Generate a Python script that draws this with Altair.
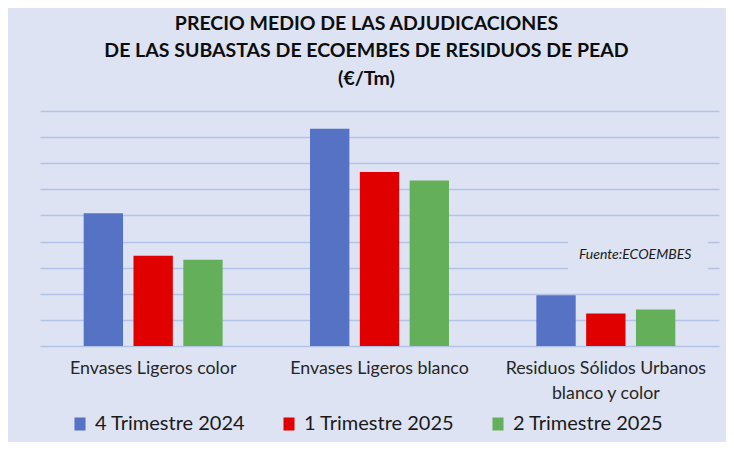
import altair as alt
import pandas as pd

categories = ["Envases Ligeros color", "Envases Ligeros blanco", "Residuos Sólidos Urbanos blanco y color"]
series = ["4 Trimestre 2024", "1 Trimestre 2025", "2 Trimestre 2025"]
q4_2024 = [254, 416, 97]
q1_2025 = [173, 333, 62]
q2_2025 = [165, 317, 70]
colors = ["#5672c4", "#e00000", "#64b05a"]
grid_values = [0, 50, 100, 150, 200, 250, 300, 350, 400, 450]
source_note = ["Fuente:ECOEMBES"]

rows = []
for s, vals in zip(series, [q4_2024, q1_2025, q2_2025]):
    for c, v in zip(categories, vals):
        rows.append({"categoria": c, "serie": s, "valor": v})
df = pd.DataFrame(rows)

FONT = "Lato, Liberation Sans, sans-serif"
BG = "#dde3f2"

label_expr = ("datum.value == 'Residuos Sólidos Urbanos blanco y color' ? "
              "['Residuos  Sólidos  Urbanos', 'blanco y color'] : datum.label")

bars = alt.Chart(df).mark_bar().encode(
    x=alt.X("categoria:N", sort=categories,
            scale=alt.Scale(paddingInner=0.386, paddingOuter=0.193),
            axis=alt.Axis(title=None, labelAngle=0, domain=False, ticks=False,
                          labelPadding=13, labelFontSize=17.8, labelFont=FONT,
                          labelColor="#262626", labelLimit=0, labelLineHeight=25,
                          bandPosition=0.515, labelExpr=label_expr)),
    xOffset=alt.XOffset("serie:N", sort=series,
                        scale=alt.Scale(paddingInner=0.21, paddingOuter=0)),
    y=alt.Y("valor:Q", scale=alt.Scale(domain=[0, 450], nice=False),
            axis=alt.Axis(title=None, labels=False, ticks=False, domain=False,
                          values=grid_values, gridColor="#b3c3e6", gridWidth=1.5)),
    color=alt.Color("serie:N", sort=series,
                    scale=alt.Scale(domain=series, range=colors),
                    legend=alt.Legend(title=None, orient="none", direction="horizontal",
                                      legendX=30, legendY=303,
                                      symbolType="M-0.85,-1H0.85V1H-0.85Z",
                                      symbolSize=169, symbolStrokeWidth=0,
                                      labelFontSize=20, labelFont=FONT,
                                      labelColor="#1a1a1a", labelOffset=5,
                                      columnPadding=33, labelLimit=0)),
)

note_df = pd.DataFrame({"t": source_note})
box = alt.Chart(note_df).mark_rect(color=BG).encode(
    x=alt.value(528), x2=alt.value(668), y=alt.value(116), y2=alt.value(172)
)
note = alt.Chart(note_df).mark_text(
    align="left", baseline="alphabetic", fontStyle="italic", fontSize=14,
    font=FONT, color="#1a1a1a"
).encode(x=alt.value(539), y=alt.value(148), text="t:N")

chart = alt.layer(box, bars, note).properties(
    width=679, height=235,
    autosize=alt.AutoSizeParams(type="none"),
    padding={"left": 32, "top": 103, "right": 7, "bottom": 96},
    title=alt.TitleParams(
        ["PRECIO MEDIO DE LAS ADJUDICACIONES",
         "DE LAS SUBASTAS DE ECOEMBES DE RESIDUOS DE PEAD",
         "(€/Tm)"],
        fontSize=19.5, font=FONT, fontWeight="bold", color="#0d0d0d",
        anchor="middle", lineHeight=27.5, offset=22, dx=-13),
).configure(background=BG).configure_view(stroke=None)

chart.save("out.html", embed_options={"renderer": "svg", "actions": False})
